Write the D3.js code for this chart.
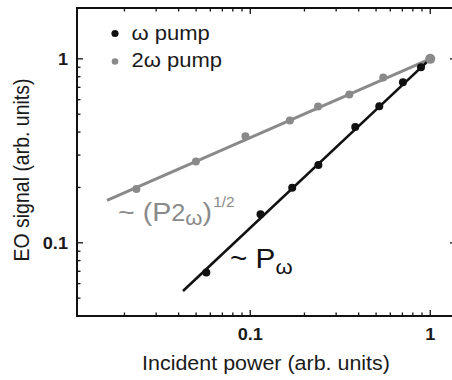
<!DOCTYPE html>
<html><head><meta charset="utf-8">
<script src="https://cdn.jsdelivr.net/npm/d3@7"></script>
<style>body{margin:0;background:#fff;}svg{display:block;}text{font-family:"Liberation Sans",Arial,sans-serif;}</style>
</head><body>
<svg id="c" width="452" height="380"></svg>
<script>
// ---- data ----
const omegaX = [0.057, 0.114, 0.171, 0.239, 0.383, 0.521, 0.705, 0.888, 1.0];
const omegaY = [0.069, 0.143, 0.199, 0.265, 0.426, 0.553, 0.746, 0.90, 1.0];
const twoX = [0.0233, 0.0499, 0.094, 0.166, 0.238, 0.355, 0.548, 1.0];
const twoY = [0.196, 0.277, 0.38, 0.462, 0.551, 0.64, 0.793, 1.0];
const fitOmegaX = [0.0423, 1.0];
const fitOmegaY = [0.0547, 1.0];
const fitTwoX = [0.016, 1.0];
const fitTwoY = [0.17, 1.0];
const xTickVals = [0.1, 1];
const xTickLabels = ["0.1", "1"];
const yTickVals = [0.1, 1];
const yTickLabels = ["0.1", "1"];
const legendLabels = ["\u03c9 pump", "2\u03c9 pump"];

// ---- layout ----
const L = 77, R = 456, T = 8, B = 316;
const SX = 1.1;
const BLACK = "#111", GREY = "#8a8a8a", TXT = "#1a1a1a";
const svg = d3.select("#c");
const x = d3.scaleLog().domain([0.0109, 1.39]).range([L, R]);
const y = d3.scaleLog().domain([0.04, 1.89]).range([B, T]);

// frame
svg.append("rect").attr("x", L).attr("y", T).attr("width", R - L).attr("height", B - T)
  .attr("fill", "none").attr("stroke", "#111").attr("stroke-width", 2);

// ticks
const xMinor = x.ticks().filter(v => x(v) > L + 2 && x(v) < R - 2);
const yMinor = y.ticks().filter(v => y(v) < B - 2 && y(v) > T + 2);
const isMajor = v => Math.abs(Math.log10(v) - Math.round(Math.log10(v))) < 1e-6;
const tk = svg.append("g").attr("stroke", "#111").attr("stroke-width", 1.3);
xMinor.forEach(v => {
  const len = isMajor(v) ? 6 : 3.5;
  tk.append("line").attr("x1", x(v)).attr("x2", x(v)).attr("y1", B).attr("y2", B - len);
  tk.append("line").attr("x1", x(v)).attr("x2", x(v)).attr("y1", T).attr("y2", T + len);
});
yMinor.forEach(v => {
  const len = isMajor(v) ? 6 : 3.5;
  tk.append("line").attr("y1", y(v)).attr("y2", y(v)).attr("x1", L).attr("x2", L + len);
  tk.append("line").attr("y1", y(v)).attr("y2", y(v)).attr("x1", R).attr("x2", R - len);
});

// tick labels
xTickVals.forEach((v, i) => {
  svg.append("text").attr("transform", `translate(${x(v)},340) scale(${SX},1)`)
    .attr("text-anchor", "middle").attr("font-size", 16.5).attr("font-weight", "bold")
    .attr("fill", TXT).text(xTickLabels[i]);
});
yTickVals.forEach((v, i) => {
  svg.append("text").attr("transform", `translate(68,${y(v) + 6}) scale(${SX},1)`)
    .attr("text-anchor", "end").attr("font-size", 16.5).attr("font-weight", "bold")
    .attr("fill", TXT).text(yTickLabels[i]);
});

// axis titles
svg.append("text").attr("transform", `translate(266,370) scale(${SX},1)`)
  .attr("text-anchor", "middle").attr("font-size", 19.5).attr("fill", TXT)
  .text("Incident power (arb. units)");
svg.append("text").attr("transform", `translate(29,170) scale(${SX},1) rotate(-90)`)
  .attr("text-anchor", "middle").attr("font-size", 19.5).attr("fill", TXT)
  .text("EO signal (arb. units)");

// fit lines
const line = d3.line().x(d => x(d[0])).y(d => y(d[1]));
svg.append("path").datum(d3.zip(fitTwoX, fitTwoY)).attr("d", line)
  .attr("fill", "none").attr("stroke", GREY).attr("stroke-width", 3);
svg.append("path").datum(d3.zip(fitOmegaX, fitOmegaY)).attr("d", line)
  .attr("fill", "none").attr("stroke", BLACK).attr("stroke-width", 2.6);

// points
svg.append("g").selectAll("circle").data(d3.zip(omegaX, omegaY)).join("circle")
  .attr("cx", d => x(d[0])).attr("cy", d => y(d[1])).attr("r", 4).attr("fill", BLACK);
svg.append("g").selectAll("circle").data(d3.zip(twoX, twoY)).join("circle")
  .attr("cx", d => x(d[0])).attr("cy", d => y(d[1])).attr("r", (d, i) => i === twoX.length - 1 ? 5 : 4)
  .attr("fill", GREY);

// legend
[[BLACK, 3.6, 33.5, 40], [GREY, 3.3, 61.5, 67]].forEach((s, i) => {
  svg.append("circle").attr("cx", 115).attr("cy", s[2]).attr("r", s[1]).attr("fill", s[0]);
  svg.append("text").attr("transform", `translate(131.5,${s[3]}) scale(${SX},1)`)
    .attr("font-size", 20).attr("fill", TXT).text(legendLabels[i]);
});

// annotations
const a1 = svg.append("text").attr("transform", `translate(118,221) scale(${SX},1)`)
  .attr("font-size", 26).attr("fill", GREY);
a1.append("tspan").text("~ (P");
a1.append("tspan").attr("font-size", 23).text("2");
a1.append("tspan").attr("font-size", 20).attr("dy", 4).text("\u03c9");
a1.append("tspan").attr("dy", -4).text(")");
a1.append("tspan").attr("font-size", 14).attr("dy", -14).attr("dx", 1).text("1/2");

const a2 = svg.append("text").attr("transform", `translate(230,268) scale(${SX},1)`)
  .attr("font-size", 27).attr("fill", BLACK);
a2.append("tspan").text("~ P");
a2.append("tspan").attr("font-size", 20).attr("dy", 6).text("\u03c9");
</script>
</body></html>
